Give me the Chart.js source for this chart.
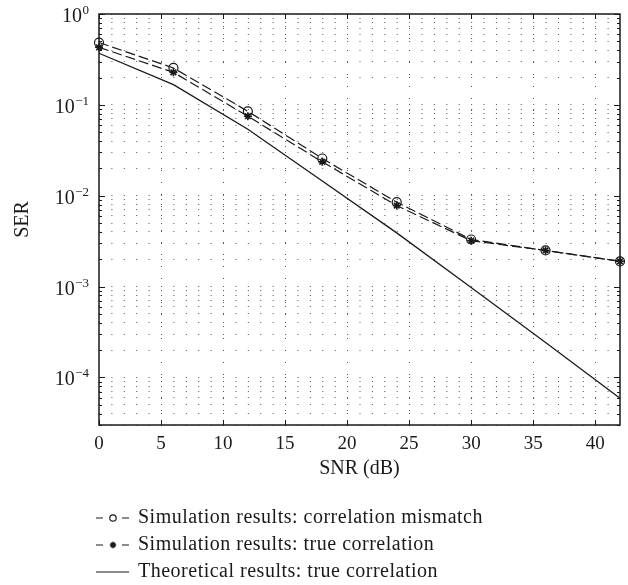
<!DOCTYPE html>
<html>
<head>
<meta charset="utf-8">
<script src="https://cdn.jsdelivr.net/npm/chart.js@4.4.0/dist/chart.umd.min.js"></script>
<style>
  html, body { margin: 0; padding: 0; background: #fff; }
  #wrap { width: 628px; height: 585px; }
</style>
</head>
<body>
<div id="wrap"><canvas id="serChart" width="628" height="585"></canvas></div>
<script>
// SNR points (dB) and SER values
const snr = [0, 6, 12, 18, 24, 30, 36, 42];
const serMismatch = [0.485, 0.255, 0.085, 0.0257, 0.0085, 0.0033, 0.0025, 0.0019];
const serTrueCorr = [0.43, 0.228, 0.075, 0.0236, 0.0078, 0.0032, 0.0025, 0.0019];
const serTheory = [0.37, 0.167, 0.054, 0.0145, 0.0039, 0.00098, 0.000243, 0.000059];

// axis ticks
const xTickLabels = [0, 5, 10, 15, 20, 25, 30, 35, 40];
const yDecades = [1e-4, 1e-3, 1e-2, 1e-1, 1];
const yExponents = ['\u22124', '\u22123', '\u22122', '\u22121', '0'];
const legendLabels = [
    'Simulation results: correlation mismatch',
    'Simulation results: true correlation',
    'Theoretical results: true correlation'
];

const SERIF = '"Liberation Serif", "DejaVu Serif", serif';
const INK = '#1a1a1a';

function toPoints(ys) {
    return snr.map((x, i) => ({ x: x, y: ys[i] }));
}

// draws the frame, inward ticks, y labels and the legend
const matlabLook = {
    id: 'matlabLook',
    beforeDatasetsDraw(chart) {
        const { ctx, chartArea: a, scales: { x, y } } = chart;
        ctx.save();
        ctx.strokeStyle = INK;
        ctx.lineWidth = 1;
        ctx.beginPath();
        // x ticks every 5 dB, top and bottom
        xTickLabels.forEach(v => {
            const px = Math.round(x.getPixelForValue(v)) + 0.5;
            ctx.moveTo(px, a.bottom); ctx.lineTo(px, a.bottom - 5);
            ctx.moveTo(px, a.top); ctx.lineTo(px, a.top + 5);
        });
        // y ticks: long on decades, short on the rest
        y.ticks.forEach(t => {
            const py = Math.round(y.getPixelForValue(t.value)) + 0.5;
            const len = yDecades.includes(t.value) ? 6 : 3;
            ctx.moveTo(a.left, py); ctx.lineTo(a.left + len, py);
            ctx.moveTo(a.right, py); ctx.lineTo(a.right - len, py);
        });
        ctx.stroke();
        ctx.lineWidth = 1.5;
        ctx.strokeRect(a.left, a.top, a.right - a.left, a.bottom - a.top);
        ctx.restore();
    },
    afterDraw(chart) {
        const { ctx, scales: { y } } = chart;
        ctx.save();
        ctx.fillStyle = INK;
        // y labels as 10 with a raised exponent
        const rightEdge = 89;
        yDecades.forEach((v, i) => {
            const py = y.getPixelForValue(v);
            ctx.font = '13px ' + SERIF;
            ctx.textAlign = 'right';
            ctx.textBaseline = 'alphabetic';
            const ew = ctx.measureText(yExponents[i]).width;
            ctx.fillText(yExponents[i], rightEdge, py);
            ctx.font = '20px ' + SERIF;
            ctx.fillText('10', rightEdge - ew - 0.5, py + 8);
        });

        // legend below the axes
        const rows = [518, 545, 572];
        const ds = chart.data.datasets;
        rows.forEach((ry, i) => {
            const d = ds[i];
            ctx.strokeStyle = INK;
            ctx.lineWidth = 1.2;
            ctx.setLineDash([]);
            ctx.beginPath();
            if (d.borderDash && d.borderDash.length) {
                ctx.moveTo(96, ry); ctx.lineTo(103, ry);
                ctx.moveTo(122, ry); ctx.lineTo(129, ry);
            } else {
                ctx.moveTo(96, ry); ctx.lineTo(129, ry);
            }
            ctx.stroke();
            if (d.pointRadius > 0) {
                ctx.fillStyle = d.pointBackgroundColor;
                ctx.strokeStyle = INK;
                ctx.lineWidth = d.pointBorderWidth;
                Chart.helpers.drawPoint(ctx, {
                    pointStyle: d.pointStyle, radius: 3.2, rotation: 0, borderWidth: d.pointBorderWidth
                }, 113, ry);
            }
            ctx.fillStyle = INK;
            ctx.font = '20px ' + SERIF;
            ctx.letterSpacing = '0.5px';
            ctx.textAlign = 'left';
            ctx.textBaseline = 'middle';
            ctx.fillText(legendLabels[i], 138, ry);
            ctx.letterSpacing = '0px';
        });
        ctx.restore();
    }
};

new Chart(document.getElementById('serChart'), {
    type: 'line',
    data: {
        datasets: [{
            label: legendLabels[0],
            data: toPoints(serMismatch),
            borderColor: INK,
            borderWidth: 1.2,
            borderDash: [10, 4],
            pointStyle: 'circle',
            pointRadius: 4.5,
            pointBorderWidth: 1.2,
            pointBorderColor: INK,
            pointBackgroundColor: 'rgba(255,255,255,0)',
            clip: false
        }, {
            label: legendLabels[1],
            data: toPoints(serTrueCorr),
            borderColor: INK,
            borderWidth: 1.2,
            borderDash: [10, 4],
            pointStyle: 'star',
            pointRadius: 4,
            pointBorderWidth: 1.6,
            pointBorderColor: INK,
            pointBackgroundColor: INK,
            clip: false
        }, {
            label: legendLabels[2],
            data: toPoints(serTheory),
            borderColor: INK,
            borderWidth: 1.3,
            borderDash: [],
            pointRadius: 0,
            pointBorderWidth: 0,
            clip: false
        }]
    },
    options: {
        responsive: false,
        animation: false,
        layout: { padding: { top: 14, right: 7, bottom: 100, left: 0 } },
        plugins: { legend: { display: false }, tooltip: { enabled: false } },
        scales: {
            x: {
                type: 'linear',
                min: 0,
                max: 42,
                afterBuildTicks: (scale) => {
                    const t = [];
                    for (let v = 0; v <= 42; v++) t.push({ value: v });
                    scale.ticks = t;
                },
                afterFit: (scale) => { scale.height = 60; },
                ticks: {
                    autoSkip: false,
                    maxRotation: 0,
                    padding: 8,
                    color: INK,
                    font: { family: SERIF, size: 19 },
                    callback: (v) => xTickLabels.includes(v) ? String(v) : ''
                },
                grid: {
                    drawTicks: false,
                    lineWidth: 1,
                    color: (c) => (c.tick && c.tick.value % 5 === 0 && c.tick.value > 0) ? '#555' : 'rgba(0,0,0,0)'
                },
                border: { display: false, dash: [1, 11] },
                title: {
                    display: true,
                    text: 'SNR (dB)',
                    color: INK,
                    font: { family: SERIF, size: 20 },
                    padding: { top: 8 }
                }
            },
            y: {
                type: 'logarithmic',
                min: 3e-5,
                max: 1,
                afterBuildTicks: (scale) => {
                    const t = [];
                    yDecades.concat([1e-5]).sort((a, b) => a - b).forEach(d => {
                        for (let m = 1; m <= 9; m++) {
                            const v = d * m;
                            if (v >= scale.min && v <= scale.max * 1.0001) t.push({ value: m === 1 ? d : v });
                        }
                    });
                    scale.ticks = t;
                },
                afterFit: (scale) => { scale.width = 99; },
                ticks: { display: false },
                grid: {
                    drawTicks: false,
                    lineWidth: 1,
                    color: '#555'
                },
                border: {
                    display: false,
                    dash: (c) => {
                        const xs = c.chart.scales.x;
                        const step = xs.getPixelForValue(1) - xs.getPixelForValue(0);
                        return [1, Math.max(step - 1, 2)];
                    }
                },
                title: {
                    display: true,
                    text: 'SER',
                    color: INK,
                    font: { family: SERIF, size: 20 },
                    padding: { top: 11 }
                }
            }
        }
    },
    plugins: [matlabLook]
});
</script>
</body>
</html>
